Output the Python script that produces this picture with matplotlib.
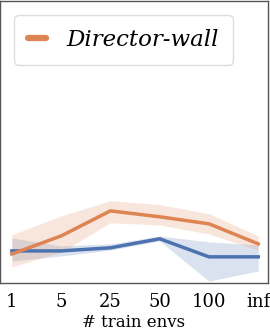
import numpy as np
import matplotlib.pyplot as plt

plt.rcParams['font.family'] = ['DejaVu Serif']

envs = ['1', '5', '25', '50', '100', 'inf']

# Director-wall (orange)
wall_mean = [0.103, 0.167, 0.256, 0.235, 0.210, 0.139]
wall_low = [0.057, 0.110, 0.214, 0.206, 0.174, 0.117]
wall_high = [0.171, 0.238, 0.292, 0.278, 0.246, 0.167]

# other series (blue)
base_mean = [0.114, 0.114, 0.125, 0.157, 0.093, 0.093]
base_low = [0.078, 0.096, 0.117, 0.149, 0.007, 0.043]
base_high = [0.160, 0.132, 0.139, 0.167, 0.146, 0.135]

orange = '#dd8452'
blue = '#4c72b0'

fig = plt.figure(figsize=(2.7, 3.35), dpi=100)
ax = fig.add_axes([0.0, 0.155, 0.993, 0.842])

x = np.arange(len(envs))
ax.fill_between(x, base_low, base_high, color=blue, alpha=0.2, lw=0)
ax.plot(x, base_mean, color=blue, lw=2.5)
ax.fill_between(x, wall_low, wall_high, color=orange, alpha=0.2, lw=0)
ax.plot(x, wall_mean, color=orange, lw=2.5, label='Director-wall')

ax.set_xlim(-0.24, 5.2)
ax.set_ylim(0, 1.0)
ax.set_xticks(x)
ax.set_xticklabels(envs, fontsize=13)
ax.set_yticks([])
ax.tick_params(axis='x', length=0, pad=7)
ax.set_xlabel('# train envs', fontsize=12, labelpad=2)
for s in ax.spines.values():
    s.set_color('#555555')
    s.set_linewidth(1.0)

leg = ax.legend(loc='upper left', bbox_to_anchor=(0.052, 0.95), borderaxespad=0,
                prop={'style': 'italic', 'size': 16.5},
                handlelength=0.8, handletextpad=0.9, borderpad=0.6, fancybox=True, framealpha=1)
leg.get_frame().set_edgecolor('#dddddd')
for h in leg.legend_handles:
    h.set_linewidth(4.5)
    h.set_solid_capstyle('round')

fig.savefig('out.png')
